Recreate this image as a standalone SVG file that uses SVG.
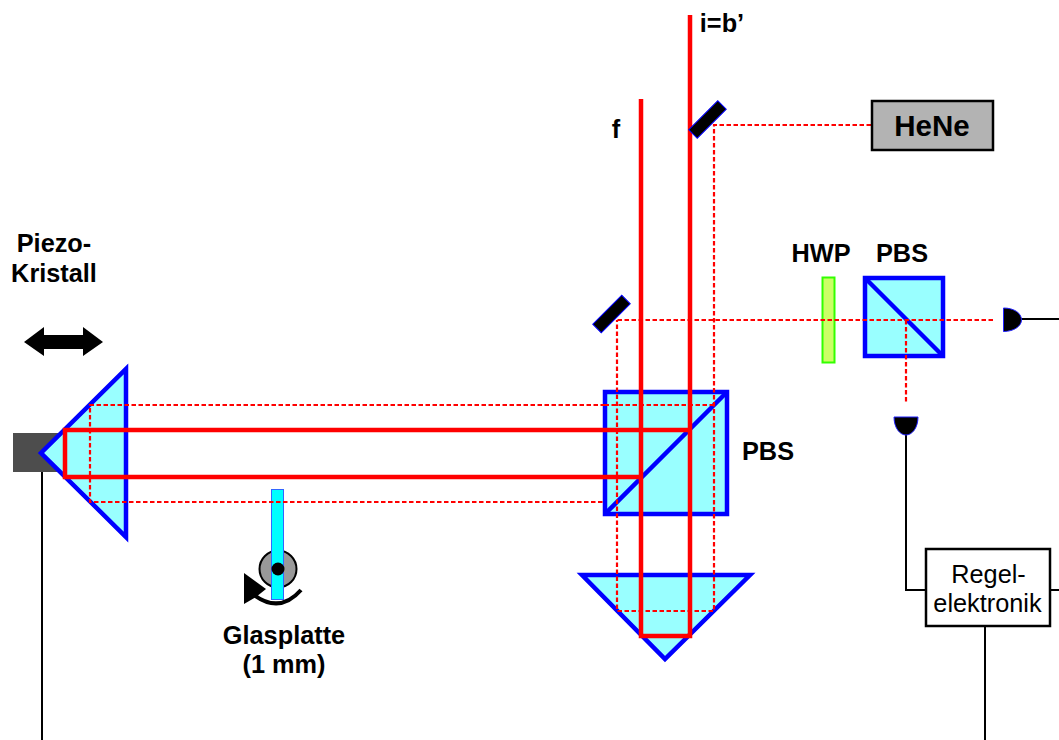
<svg xmlns="http://www.w3.org/2000/svg" width="1059" height="740" viewBox="0 0 1059 740">
<style>
.t{font-family:"Liberation Sans",Arial,sans-serif;font-weight:700;font-size:25.300px;fill:#000;text-anchor:middle}
.r{font-family:"Liberation Sans",Arial,sans-serif;font-size:25.300px;fill:#000;text-anchor:middle}
.glass{fill:#99ffff;stroke:#0000ff;stroke-width:4.500}
.beam{fill:none;stroke:#ff0000;stroke-width:4.500}
.dash{fill:none;stroke:#ff0000;stroke-width:2.200;stroke-dasharray:4.500 2.500}
.wire{fill:none;stroke:#000;stroke-width:2}
.mirror{fill:#000;stroke:#0000ff;stroke-width:1}
.det{fill:#000;stroke:#2020ff;stroke-width:1}
</style>
<g id="piezo"><rect x="13" y="433" width="50" height="39" fill="#4d4d4d"/>
<path class="wire" d="M42 472V740"/></g>
<g id="piezo-arrow"><path d="M24 342L44 327V335H83V327L103 342L83 356V349H44V356Z" fill="#000"/></g>
<g id="retro-left"><path class="glass" d="M126 369V537L41 453Z"/></g>
<g id="pbs-main"><rect class="glass" x="605" y="392" width="122" height="122"/><path d="M605 514L727 392" fill="none" stroke="#0000ff" stroke-width="4.500"/></g>
<g id="retro-bottom"><path class="glass" d="M582 575H750L665 659Z"/></g>
<g id="hwp"><rect x="822.500" y="277.500" width="12" height="85" fill="#ccff66" stroke="#33ff00" stroke-width="2"/></g>
<g id="pbs-small"><rect class="glass" x="865" y="278" width="78" height="78"/><path d="M865 278L943 356" fill="none" stroke="#0000ff" stroke-width="4.500"/></g>
<g id="glass-plate"><circle cx="278" cy="569" r="18.500" fill="#999" stroke="#000" stroke-width="2"/>
<rect x="271.500" y="489.500" width="12" height="110" fill="#00ffff" stroke="#3366ff" stroke-width="1"/>
<circle cx="278" cy="569" r="6.500" fill="#000"/>
<path d="M301 590Q280 614 254 595" fill="none" stroke="#000" stroke-width="4"/>
<path d="M244 573L266 589L256 597L244 604Z" fill="#000"/></g>
<g id="connectors">
<path class="dash" d="M871 125H714V611H617V320M993 320H617M906 320V404M605 405H90V502H605M714 405H605"/>
<path class="beam" d="M690 15V636H641V99M690 430H65V477H641"/>
<path class="wire" d="M906 434V590H926M1050 590H1059M985 626V740M1021 319H1059"/>
</g>
<g id="mirror-top"><path class="mirror" transform="rotate(-45 707.500 119.500)" d="M687 113.500H728V125.500H687Z"/></g>
<g id="mirror-left"><path class="mirror" transform="rotate(-45 611.500 314)" d="M591 308H632V320H591Z"/></g>
<g id="det-right"><path class="det" d="M1003.500 308C1014 308 1021.500 313 1021.500 320C1021.500 326 1014 331.500 1003.500 331.500Z"/></g>
<g id="det-bottom"><path class="det" d="M894 417H918C918 428 912 435 906 435C900 435 894 428 894 417Z"/></g>
<g id="hene"><rect x="872" y="101" width="121" height="49" fill="#b3b3b3" stroke="#000" stroke-width="2.500"/><text class="t" x="932" y="136" style="font-size:29.500px">HeNe</text></g>
<g id="regel"><rect x="926" y="549" width="124" height="77" fill="#fff" stroke="#000" stroke-width="2.500"/><text class="r" x="988.500" y="583">Regel-</text><text class="r" x="987.500" y="612">elektronik</text></g>
<g id="labels">
<text class="t" x="722" y="32">i=b’</text>
<text class="t" x="616" y="138">f</text>
<text class="t" x="821" y="262">HWP</text>
<text class="t" x="902" y="262">PBS</text>
<text class="t" x="768" y="460">PBS</text>
<text class="t" x="54" y="252">Piezo-</text>
<text class="t" x="54" y="282">Kristall</text>
<text class="t" x="284" y="644">Glasplatte</text>
<text class="t" x="284" y="673">(1 mm)</text>
</g>
</svg>
